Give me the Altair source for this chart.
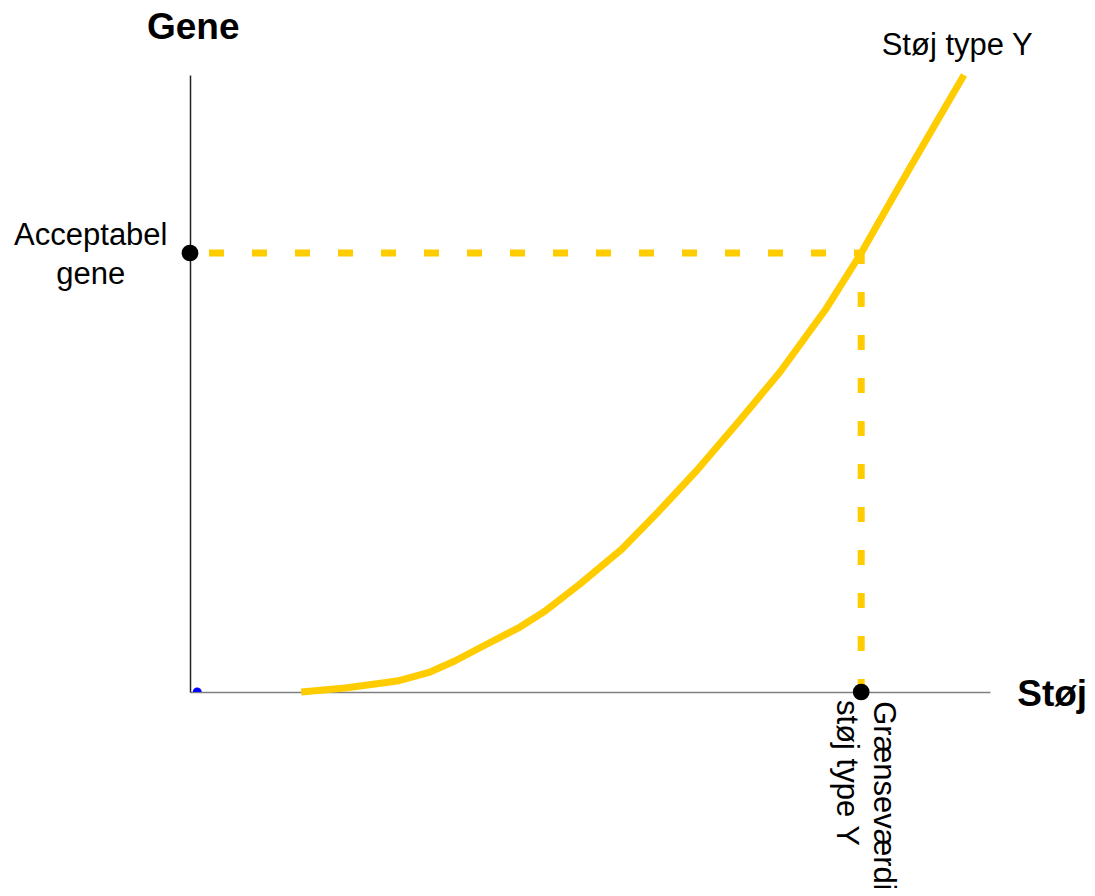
import altair as alt
import pandas as pd

# Curve "Støj type Y" (abstract units: x 0-100, y 0-100)
curve_x = [13.9, 19.4, 25.9, 30.0, 33.1, 36.9, 41.25, 44.4, 48.75, 54.0, 58.75,
           63.4, 68.75, 73.75, 79.4, 83.9, 88.75, 93.1, 96.75]
curve_y = [0.0, 0.65, 1.78, 3.24, 5.02, 7.62, 10.53, 13.13, 17.5, 23.18, 29.5,
           35.98, 44.08, 51.86, 61.91, 71.15, 82.17, 91.9, 100.0]

threshold_x = 83.9   # Grænseværdi støj type Y
threshold_y = 71.15  # Acceptabel gene

# Text labels
reg_text = ["Acceptabel", "gene", "Støj type Y"]
reg_x = [-12.4, -12.4, 95.9]
reg_y = [72.45, 66.13, 103.24]

bold_text = ["Gene", "Støj"]
bold_x = [0.4, 103.4]
bold_y = [105.8, -2.27]
bold_align = ["center", "left"]

rot_text = ["Grænseværdi", "støj type Y"]
rot_x = [85.5, 80.9]
rot_y = [-1.5, -1.3]

YELLOW = "#FFCC00"
FONT = "Liberation Sans"

xs = alt.Scale(domain=[0, 100], nice=False, zero=False)
ys = alt.Scale(domain=[0, 100], nice=False, zero=False)

curve_df = pd.DataFrame({"x": curve_x, "y": curve_y})
thr_df = pd.DataFrame({"x": [threshold_x], "y": [threshold_y], "x0": [0.0], "y0": [0.0]})
dots_df = pd.DataFrame({"x": [0.0, threshold_x], "y": [threshold_y, 0.0]})
origin_df = pd.DataFrame({"x": [0.9], "y": [0.0]})
reg_df = pd.DataFrame({"t": reg_text, "x": reg_x, "y": reg_y})
bold_df = pd.DataFrame({"t": bold_text, "x": bold_x, "y": bold_y, "a": bold_align})
rot_df = pd.DataFrame({"t": rot_text, "x": rot_x, "y": rot_y})

X = lambda f="x": alt.X(f"{f}:Q", scale=xs, title=None)
Y = lambda f="y": alt.Y(f"{f}:Q", scale=ys, title=None)

origin = alt.Chart(origin_df).mark_circle(color="#0000FF", size=80, opacity=1, clip=True).encode(
    x=X(), y=Y())

hdash = alt.Chart(thr_df).mark_rule(color=YELLOW, strokeWidth=7, strokeDash=[15, 28],
                                    strokeDashOffset=24).encode(
    x=X("x0"), x2="x", y=Y())
vdash = alt.Chart(thr_df).mark_rule(color=YELLOW, strokeWidth=7, strokeDash=[15, 28],
                                    strokeDashOffset=4).encode(
    x=X(), y=Y(), y2="y0")

curve = alt.Chart(curve_df).mark_line(color=YELLOW, strokeWidth=7, strokeJoin="round").encode(
    x=X(), y=Y())

dots = alt.Chart(dots_df).mark_circle(color="black", size=280, opacity=1).encode(x=X(), y=Y())

reg = alt.Chart(reg_df).mark_text(font=FONT, fontSize=31, align="center",
                                  baseline="alphabetic", color="black").encode(
    x=X(), y=Y(), text="t:N")

bold1 = alt.Chart(bold_df[bold_df.a == "center"]).mark_text(
    font=FONT, fontSize=37, fontWeight="bold", align="center", baseline="alphabetic",
    color="black").encode(x=X(), y=Y(), text="t:N")
bold2 = alt.Chart(bold_df[bold_df.a == "left"]).mark_text(
    font=FONT, fontSize=37, fontWeight="bold", align="left", baseline="alphabetic",
    color="black").encode(x=X(), y=Y(), text="t:N")

rot = alt.Chart(rot_df).mark_text(font=FONT, fontSize=31, align="left", baseline="alphabetic",
                                  angle=90, color="black").encode(
    x=X(), y=Y(), text="t:N")

chart = alt.layer(origin, hdash, vdash, curve, dots, reg, bold1, bold2, rot).properties(
    width=800, height=617,
    autosize=alt.AutoSizeParams(type="none"),
    padding={"left": 182, "top": 67, "right": 97, "bottom": 196},
).configure_view(stroke=None).configure_axis(
    ticks=False, labels=False, grid=False, title=None, domainWidth=1.5
).configure_axisX(domainColor="#808080").configure_axisY(domainColor="#222222")

chart.save("out.html", embed_options={"renderer": "svg", "actions": False})
